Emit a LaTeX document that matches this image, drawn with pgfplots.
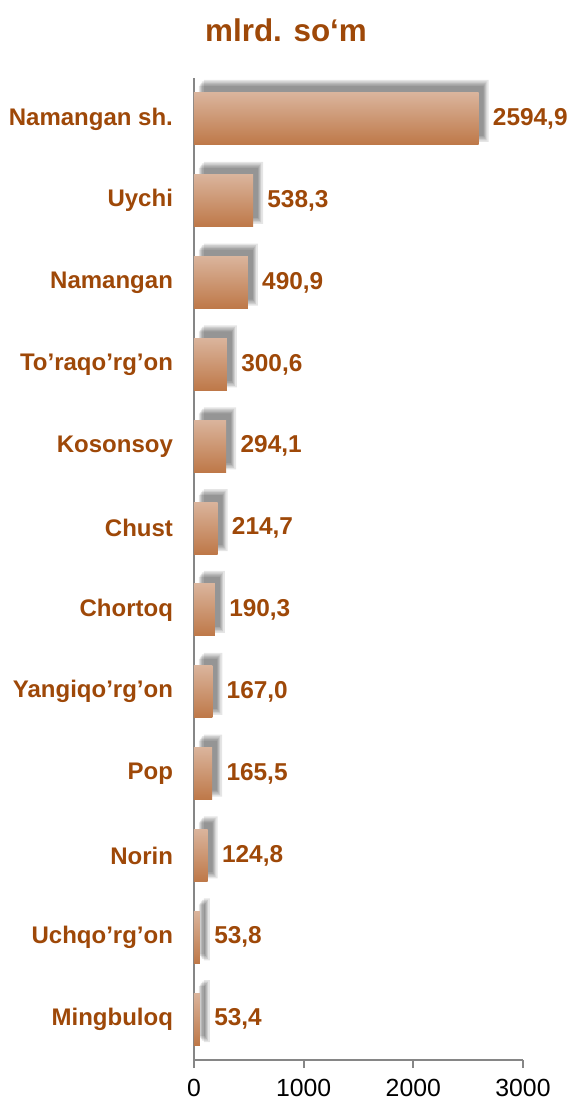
\documentclass[border=0pt]{standalone}
\usepackage{pgfplots}
\pgfplotsset{compat=1.18}
\usepackage{fontspec}
\setmainfont{Liberation Sans}
\usetikzlibrary{calc}
\definecolor{lbl}{RGB}{158,72,8}
\definecolor{axgray}{RGB}{134,134,134}
\definecolor{bartop}{RGB}{218,180,156}
\definecolor{barmid}{RGB}{214,162,114}
\definecolor{barbot}{RGB}{190,120,72}
\pgfplotstableread{
val pos
2594.9 0
538.3 1
490.9 2
300.6 3
294.1 4
214.7 5
190.3 6
167.0 7
165.5 8
124.8 9
53.8 10
53.4 11
}\bars
\pgfplotsset{
  shadowlayer/.style={forget plot, fill=black, draw=none, opacity=0.1, yshift=4pt},
}
\begin{document}
\begin{tikzpicture}
\begin{axis}[
  name=ax,
  scale only axis,
  width=164.5pt, height=491pt,
  xbar, bar width=26pt, bar shift=0pt,
  xmin=0, xmax=3000,
  ymin=-0.5, ymax=11.5,
  y dir=reverse,
  clip=false,
  axis lines=left,
  axis line style={axgray, line width=1pt, -},
  xtick={0,1000,2000,3000},
  ytick={0,...,11},
  yticklabels={Namangan sh., Uychi, Namangan, To’raqo’rg’on, Kosonsoy, Chust,
    Chortoq, Yangiqo’rg’on, Pop, Norin, Uchqo’rg’on, Mingbuloq},
  minor ytick={-0.5,0.5,...,11.5},
  tick align=outside,
  major tick length=4pt, minor tick length=3.5pt,
  ytick style={draw=none},
  minor y tick style={axgray, line width=1pt},
  xtick style={axgray, line width=1pt},
  /pgf/number format/1000 sep={},
  /pgf/number format/assume math mode=true,
  xticklabel style={font=\fontsize{12.4}{14}\selectfont, black, yshift=-2pt},
  yticklabel style={font=\bfseries\fontsize{12}{14}\selectfont, text=lbl, xshift=-3pt},
  nodes near coords style={font=\bfseries\fontsize{12.2}{14}\selectfont, text=lbl,
    anchor=west, inner sep=0pt, xshift=7pt},
]
% soft shadow behind the bars, from a few faint layers
\addplot[shadowlayer, bar width=25pt, xshift=2.5pt] table[x=val, y=pos] {\bars};
\addplot[shadowlayer, bar width=26.5pt, xshift=3pt] table[x=val, y=pos] {\bars};
\addplot[shadowlayer, bar width=28pt, xshift=3.5pt] table[x=val, y=pos] {\bars};
\addplot[shadowlayer, bar width=29.5pt, xshift=4pt] table[x=val, y=pos] {\bars};
\addplot[shadowlayer, bar width=31pt, xshift=5pt] table[x=val, y=pos] {\bars};
% bars, one plot each so that every bar gets its own gradient
\pgfplotsinvokeforeach{0,...,11}{
  \addplot[draw=none, top color=bartop, middle color=barmid, bottom color=barbot,
    restrict expr to domain={\coordindex}{#1:#1},
    nodes near coords={\pgfmathprintnumber[fixed, fixed zerofill, precision=1, use comma, 1000 sep={}]{\pgfplotspointmeta}}]
    table[x=val, y=pos] {\bars};
}
\end{axis}
\coordinate (O) at ($(ax.south west)+(-97pt,530pt)$);
\pgfresetboundingbox
\useasboundingbox (O) rectangle ++(284.5pt,-552pt);
\node[font=\bfseries\fontsize{15.7}{18}\selectfont, text=lbl] at ($(O)+(143pt,-15pt)$) {mlrd. so‘m};
\end{tikzpicture}
\end{document}
